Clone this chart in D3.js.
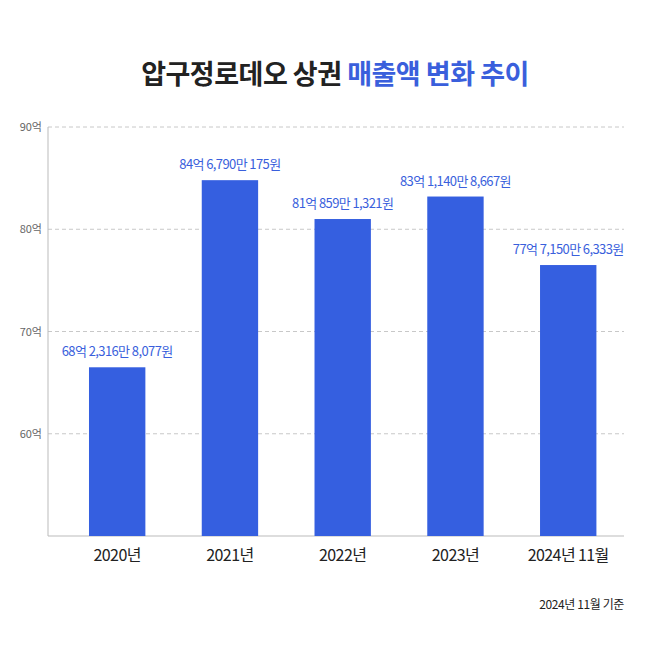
<!DOCTYPE html>
<html><head><meta charset="utf-8">
<script src="https://cdn.jsdelivr.net/npm/d3@7"></script>
<style>body{margin:0;background:#fff}svg{font-family:"Noto Sans CJK KR","Noto Sans",sans-serif}</style>
</head><body><div id="chart"></div>
<script>
const years = ["2020년", "2021년", "2022년", "2023년", "2024년 11월"];
const sales = [66.5, 84.8, 81.0, 83.2, 76.5];
const salesLabels = ["68억 2,316만 8,077원", "84억 6,790만 175원", "81억 859만 1,321원", "83억 1,140만 8,667원", "77억 7,150만 6,333원"];
const yTicks = [60, 70, 80, 90];

const svg = d3.select("#chart").append("svg").attr("width", 670).attr("height", 670);

const title = svg.append("text").attr("x", 335).attr("y", 84).attr("text-anchor", "middle")
  .attr("font-size", 27).attr("font-weight", 700).attr("letter-spacing", -0.5);
title.append("tspan").attr("fill", "#222").text("압구정로데오 상권 ");
title.append("tspan").attr("fill", "#3a5fdc").text("매출액 변화 추이");

let x = d3.scaleBand().domain(years).range([60.8, 624.6]).paddingInner(0.5).paddingOuter(0.25);
let y = d3.scaleLinear().domain([50, 90]).range([536, 127]);

svg.selectAll(".grid").data(yTicks).enter().append("line")
  .attr("x1", 48).attr("x2", 624).attr("y1", d => y(d)).attr("y2", d => y(d))
  .attr("stroke", "#c8c8c8").attr("stroke-dasharray", "4,3");

svg.selectAll(".ytick").data(yTicks).enter().append("text")
  .attr("x", 42).attr("y", d => y(d) + 4).attr("text-anchor", "end")
  .attr("font-size", 11).attr("fill", "#666").text(d => d + "억");

svg.append("line").attr("x1", 48).attr("x2", 48).attr("y1", 127).attr("y2", 536).attr("stroke", "#bbb");
svg.append("line").attr("x1", 48).attr("x2", 624).attr("y1", 536).attr("y2", 536).attr("stroke", "#bbb");

svg.selectAll(".bar").data(sales).enter().append("rect")
  .attr("x", (d, i) => x(years[i])).attr("width", x.bandwidth())
  .attr("y", d => y(d)).attr("height", d => y(50) - y(d))
  .attr("fill", "#355fe0");

svg.selectAll(".lbl").data(sales).enter().append("text")
  .attr("x", (d, i) => x(years[i]) + x.bandwidth() / 2).attr("y", d => y(d) - 11)
  .attr("text-anchor", "middle").attr("font-size", 13).attr("letter-spacing", -0.6)
  .attr("fill", "#3a5fdc").text((d, i) => salesLabels[i]);

svg.selectAll(".xl").data(years).enter().append("text")
  .attr("x", d => x(d) + x.bandwidth() / 2).attr("y", 561).attr("text-anchor", "middle")
  .attr("font-size", 16).attr("fill", "#222").attr("letter-spacing", -0.6).text(d => d);

svg.append("text").attr("x", 624).attr("y", 609).attr("text-anchor", "end")
  .attr("font-size", 12).attr("fill", "#222").attr("letter-spacing", -0.4).text("2024년 11월 기준");
</script></body></html>
